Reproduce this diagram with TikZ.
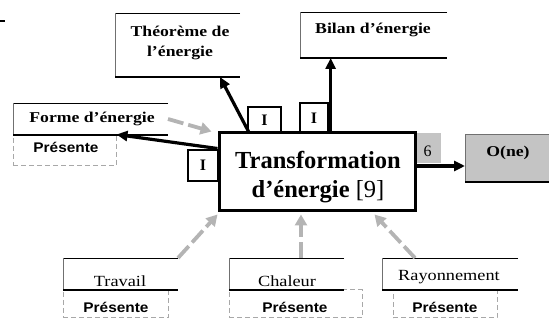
\documentclass[tikz,border=0pt]{standalone}
\usepackage{fontspec}
\setmainfont{Liberation Serif}
\newfontfamily\widefont[FakeStretch=1.18]{Liberation Serif}
\newfontfamily\sansb[FakeStretch=1.1]{Liberation Sans}
\usetikzlibrary{arrows.meta,calc}
\definecolor{arrgray}{HTML}{B4B4B4}
\definecolor{boxgray}{HTML}{C4C4C4}
\definecolor{dashgray}{HTML}{A8A8A8}
\definecolor{edgegray}{HTML}{707070}
\tikzset{
  box/.style={inner sep=0pt, outer sep=0pt},
  lbltxt/.style={inner sep=0pt, align=center, font=\widefont\bfseries\fontsize{15}{20}\selectfont},
  srctxt/.style={inner sep=0pt, font=\widefont\fontsize{15.5}{18}\selectfont},
  prtxt/.style={inner sep=0pt, font=\sansb\bfseries\fontsize{14}{15}\selectfont},
  topedge/.style={line width=0.9pt, draw=black},
  sideedge/.style={line width=0.8pt, draw=edgegray},
  botedge/.style={line width=1.4pt, draw=black},
  dbox/.style={draw=dashgray, line width=1pt, dash pattern=on 5pt off 3pt, inner sep=0pt},
  blkarr/.style={line width=3.2pt, -{Triangle[length=11pt,width=10pt]}},
  grayarr/.style={draw=arrgray, line width=3.8pt, dash pattern=on 16pt off 5pt,
                  -{Triangle[length=11pt,width=12pt,fill=arrgray]}},
  ibox/.style={draw, line width=1.3pt, inner sep=0pt, font=\bfseries\fontsize{16}{18}\selectfont},
}
\begin{document}
\begin{tikzpicture}[x=1pt,y=-1pt]
\useasboundingbox (0,0) rectangle (549,320);

% top-left mark
\draw[line width=2pt] (0,21) -- (5,21);

% dashed "Présente" boxes
\node[dbox, minimum width=103pt, minimum height=31pt] (pf) at (64.5,150.5) {};
\node[dbox, minimum width=105pt, minimum height=28pt] (pt) at (115.5,304) {};
\node[dbox, minimum width=133pt, minimum height=28pt] (pc) at (295.5,304) {};
\node[dbox, minimum width=104pt, minimum height=28pt] (pr) at (445,304) {};
\node[prtxt] (pftxt) at (66,147) {Présente};
\node[prtxt] (pttxt) at (116,307) {Présente};
\node[prtxt] (pctxt) at (295,307) {Présente};
\node[prtxt] (prtxt2) at (445,307) {Présente};

% open label boxes (no right side)
\node[box, minimum width=125pt, minimum height=64pt] (theo) at (177.5,45) {};
\node[box, minimum width=147pt, minimum height=46pt] (bilan) at (373.5,35) {};
\node[box, minimum width=155pt, minimum height=32pt] (forme) at (90.5,119) {};
\node[box, minimum width=115pt, minimum height=32pt] (trav) at (120.5,274) {};
\node[box, minimum width=115pt, minimum height=32pt] (chal) at (286.5,274) {};
\node[box, minimum width=136pt, minimum height=32pt] (ray) at (450,274) {};
\foreach \b in {theo,bilan,forme,trav,chal,ray}{
  \draw[topedge] (\b.north east) -- (\b.north west);
  \draw[sideedge] (\b.north west) -- (\b.south west);
  \draw[botedge] (\b.south west) -- (\b.south east);
}
\node[lbltxt] (theotxt) at (180,43) {Théorème de\\l’énergie};
\node[lbltxt] (bilantxt) at (373,30) {Bilan d’énergie};
\node[lbltxt] (formetxt) at (92,119) {Forme d’énergie};
\node[srctxt] (travtxt) at (120,281) {Travail};
\node[srctxt] (chaltxt) at (287,281) {Chaleur};
\node[srctxt] (raytxt) at (449,277) {Rayonnement};

% grey "6" box and output box
\node[box, fill=boxgray, minimum width=25pt, minimum height=30pt] (six) at (428,148) {};
\node[inner sep=0pt, font=\fontsize{16}{18}\selectfont] (sixtxt) at (427.5,151) {6};
\node[box, fill=boxgray, minimum width=84pt, minimum height=48pt] (one) at (507,158) {};
\draw[line width=0.6pt, draw=edgegray] (one.north east) -- (one.north west) -- (one.south west);
\draw[line width=2.5pt] (one.south west) -- (one.south east);
\node[inner sep=0pt, font=\widefont\bfseries\fontsize{15}{17}\selectfont] (onetxt) at (508,153) {O(ne)};

% small "I" boxes
\node[ibox, minimum width=33pt, minimum height=26pt] (i1) at (264.5,120) {I};
\node[ibox, minimum width=28pt, minimum height=30pt] (i2) at (314,118) {I};
\node[ibox, minimum width=30pt, minimum height=31pt] (i3) at (203,165.5) {I};

% main box
\node[draw, fill=white, line width=3pt, minimum width=196pt, minimum height=78pt, inner sep=0pt] (main) at (317,172) {};
\node[inner sep=0pt, align=center, font=\bfseries\fontsize{24.5}{29}\selectfont] (maintxt) at (318,177)
  {Transformation\\d’énergie {\mdseries[9]}};

% black arrows
\draw[blkarr] ([xshift=31pt]main.north west) -- ([xshift=42.5pt]theo.south);
\draw[blkarr] ([xshift=2pt]main.north -| i2.east) -- ([xshift=2pt]bilan.south -| i2.east);
\draw[blkarr] ([yshift=-17pt]main.north west) -- (pf.north east);
\coordinate (s6) at ([yshift=6pt]main.east);
\draw[blkarr] (s6) -- (s6 -| one.west);

% grey dashed arrows
\draw[grayarr] (forme.east) -- ([xshift=-6pt]main.north west);
\draw[grayarr] (trav.north east) -- ([yshift=-2pt]main.south west);
\draw[grayarr] ([xshift=14.5pt]chal.north) -- ([xshift=-16pt,yshift=-2pt]main.south);
\draw[grayarr] ([xshift=-35pt]ray.north) -- ([xshift=-42pt,yshift=-2pt]main.south east);
\end{tikzpicture}
\end{document}
